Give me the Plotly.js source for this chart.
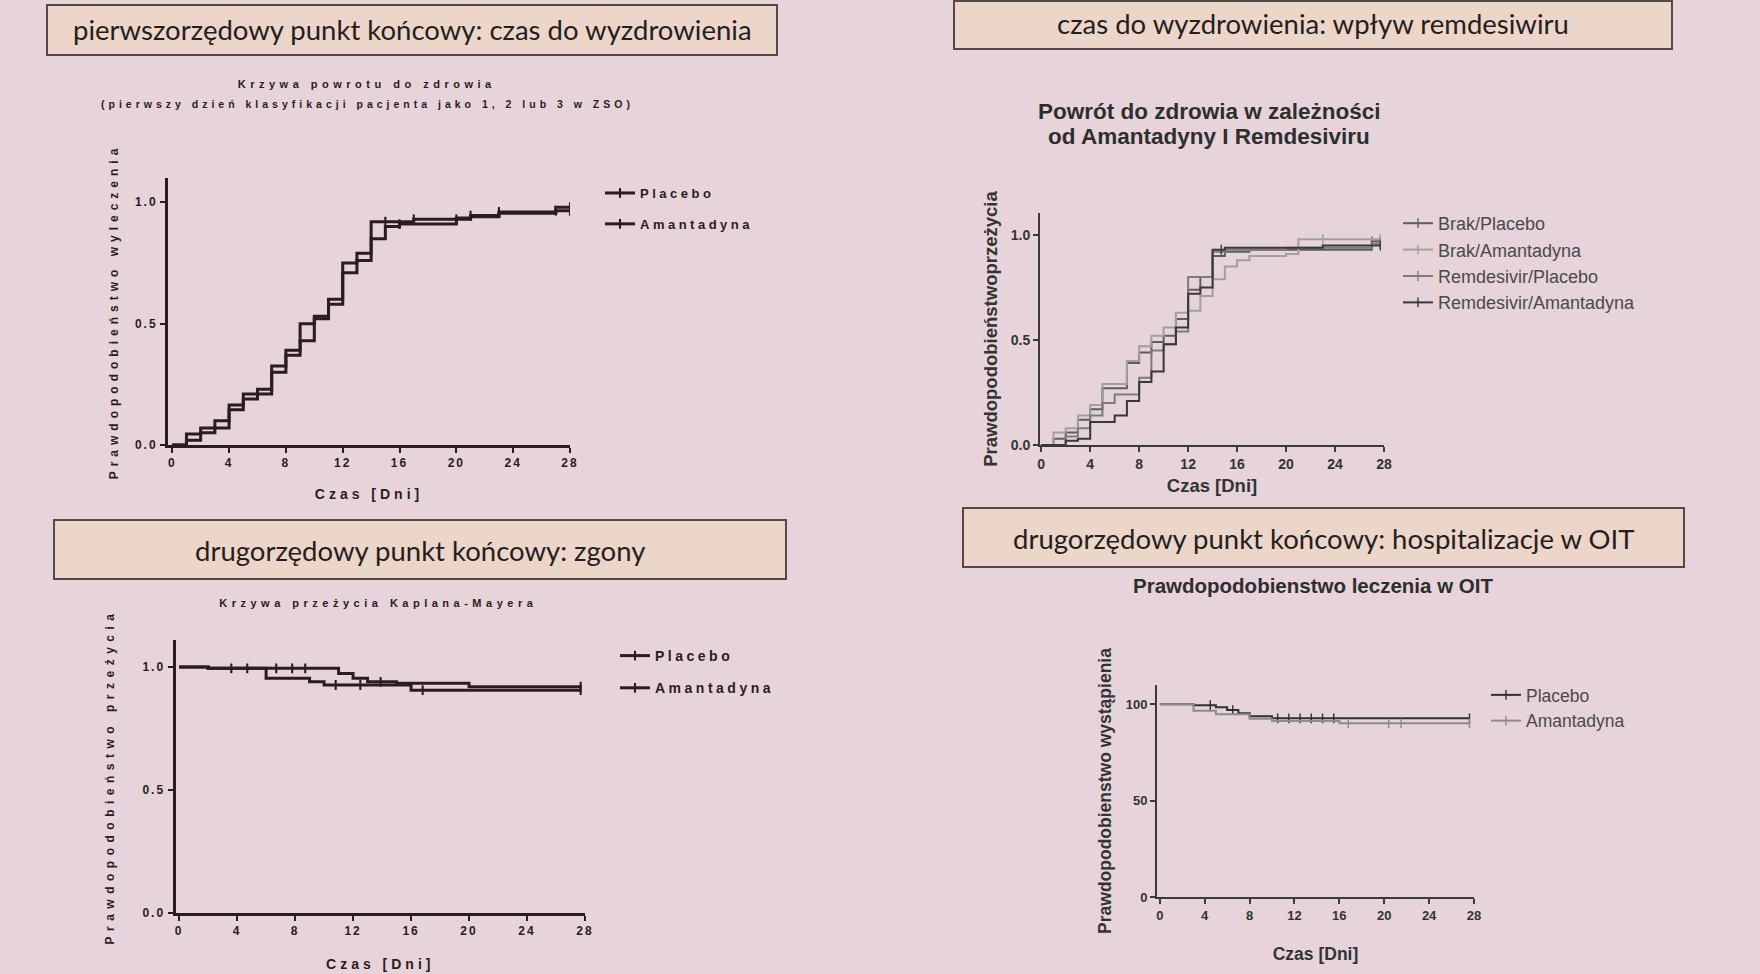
<!DOCTYPE html>
<html>
<head>
<meta charset="utf-8">
<script src="https://cdn.plot.ly/plotly-3.0.1.min.js"></script>
<style>
html,body{margin:0;padding:0;background:#e6d4da;}
#chart{width:1760px;height:974px;}
g.annotation[data-index="4"] text {letter-spacing:4.5px;}
g.annotation[data-index="5"] text {letter-spacing:4px;}
g.annotation[data-index="8"] text {letter-spacing:4.5px;}
text.xtitle, text.x3title {letter-spacing:4px;}
text.ytitle {letter-spacing:5px;}
text.y3title {letter-spacing:5.5px;}
g.xtick text, g.ytick text, g.x3tick text, g.y3tick text {letter-spacing:2px;}
text.legendtext[style*="bold"] {letter-spacing:3.5px;}
g.scrollbox {clip-path:none !important;}
</style>
</head>
<body>
<div id="chart"></div>
<script>
// ---------------- DATA ----------------
// Panel 1: time to recovery (Placebo vs Amantadyna)
const p1Days    = [0,1,2,3,4,5,6,7,8,9,10,11,12,13,14,15,16,17,20,21,23,27,28];
const p1Placebo = [0,0.045,0.07,0.10,0.165,0.21,0.23,0.325,0.39,0.50,0.53,0.60,0.75,0.79,0.92,0.92,0.92,0.93,0.935,0.945,0.96,0.98,0.98];
const p1Amant   = [0,0.02,0.05,0.07,0.145,0.19,0.21,0.30,0.37,0.43,0.52,0.58,0.71,0.76,0.85,0.90,0.91,0.91,0.93,0.94,0.955,0.965,0.965];
const p1PlaceboCens = [15,17,21,23,28];
const p1AmantCens   = [16,20,27,28];

// Panel 2: recovery by Amantadyna and Remdesivir
const p2Days = [0,1,2,3,4,5,6,7,8,9,10,11,12,13,14,15,16,17,20,21,23,27,27.7];
const p2BrakPlacebo = [0,0.03,0.06,0.12,0.17,0.27,0.27,0.39,0.44,0.49,0.52,0.60,0.74,0.80,0.90,0.92,0.92,0.93,0.93,0.93,0.93,0.97,0.97];
const p2BrakAmant   = [0,0.06,0.08,0.14,0.19,0.29,0.29,0.40,0.47,0.52,0.56,0.63,0.64,0.71,0.79,0.85,0.88,0.90,0.91,0.98,0.98,0.98,0.98];
const p2RemPlacebo  = [0,0,0.04,0.08,0.14,0.20,0.24,0.24,0.32,0.45,0.48,0.54,0.80,0.80,0.92,0.93,0.93,0.93,0.94,0.94,0.94,0.96,0.96];
const p2RemAmant    = [0,0,0.02,0.03,0.11,0.11,0.14,0.21,0.30,0.35,0.48,0.56,0.72,0.75,0.93,0.94,0.94,0.94,0.94,0.94,0.95,0.95,0.95];
const p2Labels = ['Brak/Placebo','Brak/Amantadyna','Remdesivir/Placebo','Remdesivir/Amantadyna'];
const p2BrakPlaceboCens = [27,27.7];
const p2BrakAmantCens   = [23,27.7];
const p2RemPlaceboCens  = [27.7];
const p2RemAmantCens    = [14.7,27.7];

// Panel 3: deaths (Kaplan-Meier survival)
const p3PlaceboDays = [0,2,11,12,13,15,20,27.7];
const p3Placebo     = [1,0.995,0.974,0.954,0.94,0.934,0.92,0.92];
const p3AmantDays   = [0,2,6,9,10,16,27.7];
const p3Amant       = [1,0.995,0.954,0.94,0.927,0.906,0.906];
const p3PlaceboCens = [3.6,4.7,6.7,7.8,8.7,13.9,27.7];
const p3AmantCens   = [10.8,12.5,16.8,27.7];

// Panel 4: ICU (OIT) hospitalisation
const p4PlaceboDays = [0,3,5,6,7,8,10,27.6];
const p4Placebo     = [100,99.5,98.5,97,95.3,93.8,92.7,92.7];
const p4AmantDays   = [0,3,5,8,10,16,27.6];
const p4Amant       = [100,96.7,94.8,92.5,91.3,90.1,90.1];
const p4PlaceboCens = [4.5,6.5,10.5,11.5,12.5,13.5,14.5,15.5,27.6];
const p4AmantCens   = [16.8,20.4,21.5,27.6];

const dayTicks = [0,4,8,12,16,20,24,28];

// ---------------- HELPERS ----------------
function stepVal(days, vals, t){ let v = vals[0]; for (let i=0;i<days.length;i++){ if (days[i] <= t) v = vals[i]; } return v; }
const W = 1760, H = 974;
const px = v => v / W;
const py = v => 1 - v / H;

const ink = '#2a1c20';
const greyInk = '#333333';
const LS = 'Liberation Sans, Arial, sans-serif';

const traces = [];
function addCurve(days, vals, cens, name, color, width, xa, ya, leg){
  traces.push({x: days, y: vals, mode:'lines', line:{shape:'hv', color:color, width:width},
    xaxis:xa, yaxis:ya, showlegend:false, hoverinfo:'x+y', name:name});
  traces.push({x: cens, y: cens.map(t => stepVal(days, vals, t)), mode:'markers',
    marker:{symbol:'line-ns-open', size:7, color:color, line:{color:color, width:width*0.7}},
    xaxis:xa, yaxis:ya, showlegend:false, hoverinfo:'skip', name:name});
  traces.push({x:[null], y:[null], mode:'lines+markers', name:name, legend:leg, legendgroup:leg+name,
    line:{color:color, width:width}, marker:{symbol:'line-ns-open', size:7, color:color, line:{color:color, width:width*0.7}},
    xaxis:xa, yaxis:ya, showlegend:true});
}

addCurve(p1Days, p1Placebo, p1PlaceboCens, 'Placebo', ink, 3, 'x', 'y', 'legend');
addCurve(p1Days, p1Amant, p1AmantCens, 'Amantadyna', ink, 3, 'x', 'y', 'legend');

const p2Series = [p2BrakPlacebo, p2BrakAmant, p2RemPlacebo, p2RemAmant];
const p2Cens = [p2BrakPlaceboCens, p2BrakAmantCens, p2RemPlaceboCens, p2RemAmantCens];
const p2Colors = ['#5e5e5e', '#a0a0a0', '#7c7c7c', '#383838'];
p2Series.forEach((s, i) => addCurve(p2Days, s, p2Cens[i], p2Labels[i], p2Colors[i], 2, 'x2', 'y2', 'legend2'));

addCurve(p3PlaceboDays, p3Placebo, p3PlaceboCens, 'Placebo', ink, 3, 'x3', 'y3', 'legend3');
addCurve(p3AmantDays, p3Amant, p3AmantCens, 'Amantadyna', ink, 3, 'x3', 'y3', 'legend3');

addCurve(p4PlaceboDays, p4Placebo, p4PlaceboCens, 'Placebo', '#303030', 2, 'x4', 'y4', 'legend4');
addCurve(p4AmantDays, p4Amant, p4AmantCens, 'Amantadyna', '#8c8c8c', 2, 'x4', 'y4', 'legend4');

// ---------------- LAYOUT ----------------
function xAxis(dom, range, anchor, opts){
  return Object.assign({domain:dom, range:range, anchor:anchor, tickvals:dayTicks, ticks:'outside',
    showline:true, showgrid:false, zeroline:false, fixedrange:true}, opts);
}
function yAxis(dom, range, anchor, tickvals, opts){
  return Object.assign({domain:dom, range:range, anchor:anchor, tickvals:tickvals, ticks:'outside',
    showline:true, showgrid:false, zeroline:false, fixedrange:true}, opts);
}
const leftTick = {family:LS, size:12, color:ink, weight:'bold'};
const leftTitle = {family:LS, size:14, color:ink, weight:'bold'};
const hdrFont = {family:'Lato, sans-serif', size:27.5, color:'#261e1e'};

const layout = {
  width: W, height: H,
  margin:{l:0, r:0, t:0, b:0},
  paper_bgcolor:'#e6d4da', plot_bgcolor:'rgba(0,0,0,0)',
  showlegend:true,
  xaxis: xAxis([px(168), px(570)], [-0.3, 28], 'y', {linewidth:3, linecolor:ink, tickwidth:2, ticklen:5, tickcolor:ink,
    tickfont:leftTick, title:{text:'Czas [Dni]', font:leftTitle, standoff:20}}),
  yaxis: yAxis([py(445), py(178)], [0, 1.1], 'x', [0,0.5,1], {tickformat:'.1f', linewidth:3, linecolor:ink, tickwidth:2, ticklen:5, tickcolor:ink,
    tickfont:leftTick, title:{text:'Prawdopodobieństwo wyleczenia', font:{family:LS, size:12, color:ink, weight:'bold'}, standoff:14}}),
  xaxis2: xAxis([px(1040), px(1384)], [-0.1, 28], 'y2', {linewidth:2, linecolor:'#3a3a3a', tickwidth:2, ticklen:5, tickcolor:'#3a3a3a',
    tickfont:{family:LS, size:14, color:greyInk, weight:'bold'}, title:{text:'Czas [Dni]', font:{family:LS, size:18.5, color:greyInk, weight:'bold'}, standoff:8}}),
  yaxis2: yAxis([py(445), py(213)], [0, 1.105], 'x2', [0,0.5,1], {tickformat:'.1f', linewidth:2, linecolor:'#3a3a3a', tickwidth:2, ticklen:5, tickcolor:'#3a3a3a',
    tickfont:{family:LS, size:14, color:greyInk, weight:'bold'}, title:{text:'Prawdopodobieństwoprzeżycia', font:{family:LS, size:18.5, color:greyInk, weight:'bold'}, standoff:8}}),
  xaxis3: xAxis([px(175.5), px(585)], [-0.25, 28], 'y3', {linewidth:3, linecolor:ink, tickwidth:2, ticklen:5, tickcolor:ink,
    tickfont:leftTick, title:{text:'Czas [Dni]', font:leftTitle, standoff:22}}),
  yaxis3: yAxis([py(913), py(640)], [0, 1.11], 'x3', [0,0.5,1], {tickformat:'.1f', linewidth:3, linecolor:ink, tickwidth:2, ticklen:5, tickcolor:ink,
    tickfont:leftTick, title:{text:'Prawdopodobieństwo przeżycia', font:{family:LS, size:12, color:ink, weight:'bold'}, standoff:26}}),
  xaxis4: xAxis([px(1157), px(1474)], [-0.25, 28], 'y4', {linewidth:2, linecolor:'#3a3a3a', tickwidth:2, ticklen:5, tickcolor:'#3a3a3a',
    tickfont:{family:LS, size:13, color:greyInk, weight:'bold'}, title:{text:'Czas [Dni]', font:{family:LS, size:17.5, color:greyInk, weight:'bold'}, standoff:26}}),
  yaxis4: yAxis([py(897), py(685)], [0, 110], 'x4', [0,50,100], {linewidth:2, linecolor:'#3a3a3a', tickwidth:2, ticklen:5, tickcolor:'#3a3a3a',
    tickfont:{family:LS, size:13, color:greyInk, weight:'bold'}, title:{text:'Prawdopodobienstwo wystąpienia', font:{family:LS, size:17.5, color:greyInk, weight:'bold'}, standoff:10}}),
  legend:  {x:px(600), y:py(178), xanchor:'left', yanchor:'top', bgcolor:'rgba(0,0,0,0)', traceorder:'grouped', tracegroupgap:11,
    font:{family:LS, size:13, color:ink, weight:'bold'}},
  legend2: {x:px(1398), y:py(205), xanchor:'left', yanchor:'top', bgcolor:'rgba(0,0,0,0)', traceorder:'grouped', tracegroupgap:0,
    font:{family:LS, size:18, color:'#4a4a4a'}},
  legend3: {x:px(615), y:py(640), xanchor:'left', yanchor:'top', bgcolor:'rgba(0,0,0,0)', traceorder:'grouped', tracegroupgap:11,
    font:{family:LS, size:14, color:ink, weight:'bold'}},
  legend4: {x:px(1486), y:py(677), xanchor:'left', yanchor:'top', bgcolor:'rgba(0,0,0,0)', traceorder:'grouped', tracegroupgap:0,
    font:{family:LS, size:17.5, color:'#4a4a4a'}},
  shapes: [
    {type:'rect', xref:'paper', yref:'paper', x0:px(47), x1:px(777), y0:py(55), y1:py(5), fillcolor:'#ecd6c9', line:{color:'#554848', width:2}, layer:'below'},
    {type:'rect', xref:'paper', yref:'paper', x0:px(954), x1:px(1672), y0:py(49), y1:py(1), fillcolor:'#ecd6c9', line:{color:'#554848', width:2}, layer:'below'},
    {type:'rect', xref:'paper', yref:'paper', x0:px(54), x1:px(786), y0:py(579), y1:py(520), fillcolor:'#ecd6c9', line:{color:'#554848', width:2}, layer:'below'},
    {type:'rect', xref:'paper', yref:'paper', x0:px(963), x1:px(1684), y0:py(567), y1:py(508), fillcolor:'#ecd6c9', line:{color:'#554848', width:2}, layer:'below'}
  ],
  annotations: [
    {text:'pierwszorzędowy punkt końcowy: czas do wyzdrowienia', x:px(412), y:py(30), font:hdrFont},
    {text:'czas do wyzdrowienia: wpływ remdesiwiru', x:px(1313), y:py(23), font:hdrFont},
    {text:'drugorzędowy punkt końcowy: zgony', x:px(420), y:py(550), font:hdrFont},
    {text:'drugorzędowy punkt końcowy: hospitalizacje w OIT', x:px(1323), y:py(538), font:hdrFont},
    {text:'Krzywa powrotu do zdrowia', x:px(367), y:py(84), font:{family:LS, size:11, color:ink, weight:'bold'}},
    {text:'(pierwszy dzień klasyfikacji pacjenta jako 1, 2 lub 3 w ZSO)', x:px(367), y:py(104), font:{family:LS, size:10.5, color:ink, weight:'bold'}},
    {text:'Powrót do zdrowia w zależności', x:px(1209), y:py(111), font:{family:LS, size:22.5, color:'#2e2e2e', weight:'bold'}},
    {text:'od Amantadyny I Remdesiviru', x:px(1209), y:py(137), font:{family:LS, size:22.5, color:'#2e2e2e', weight:'bold'}},
    {text:'Krzywa przeżycia Kaplana-Mayera', x:px(378), y:py(603), font:{family:LS, size:11, color:ink, weight:'bold'}},
    {text:'Prawdopodobienstwo leczenia w OIT', x:px(1313), y:py(585), font:{family:LS, size:20.5, color:'#2e2e2e', weight:'bold'}}
  ].map(a => Object.assign({xref:'paper', yref:'paper', xanchor:'center', yanchor:'middle', showarrow:false}, a))
};

// GraphPad-style spaced lettering for the legend labels of the two left panels
function spaceLeftLegends(){
  document.querySelectorAll('svg text').forEach(function(t){
    var s = (t.textContent || '').trim();
    if ((s === 'Placebo' || s === 'Amantadyna') && t.getBoundingClientRect().left < 880) {
      t.style.setProperty('letter-spacing', '3.5px', 'important');
      t.querySelectorAll('tspan').forEach(function(ts){ ts.style.setProperty('letter-spacing', '3.5px', 'important'); });
    }
  });
}
const gd = document.getElementById('chart');
Plotly.newPlot(gd, traces, layout, {displayModeBar:false, staticPlot:true}).then(function(){
  spaceLeftLegends();
  setTimeout(spaceLeftLegends, 30);
  setTimeout(spaceLeftLegends, 200);
  new MutationObserver(function(){ spaceLeftLegends(); }).observe(gd, {childList:true, subtree:true});
});
</script>
</body>
</html>
